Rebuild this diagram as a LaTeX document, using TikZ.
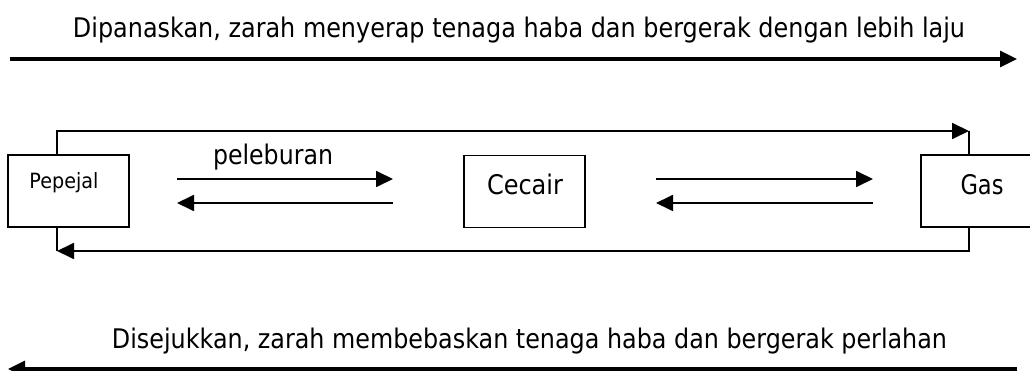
\documentclass[tikz,border=0pt]{standalone}
\usepackage{fontspec}
\setmainfont{DejaVu Sans}
\usetikzlibrary{arrows.meta}
\newcommand\fw[2]{\resizebox{#1}{\height}{#2}}
\begin{document}
\begin{tikzpicture}[x=1pt,y=-1pt,
  box/.style={draw,line width=1.8pt,inner sep=0pt,minimum width=121pt,minimum height=72pt},
  conn/.style={line width=1.8pt},
  tip/.style={-{Triangle[length=17pt,width=16pt]}},
  big/.style={line width=3.2pt,-{Triangle[length=17pt,width=16pt]}},
  lbl/.style={font=\fontsize{27}{30}\selectfont,inner sep=0pt,anchor=base},
  slbl/.style={font=\fontsize{21}{24}\selectfont,inner sep=0pt,anchor=base}
]
\clip (0,0) rectangle (1030,371);
\fill[white] (0,0) rectangle (1030,371);

% boxes
\node[box] (pep) at (68.5,191) {};
\node[box] (cec) at (524.5,191.5) {};
\node[box] (gas) at (981.5,191) {};
\node[slbl] (peptxt) at (64,189) {\fw{69pt}{Pepejal}};
\node[lbl] (cectxt) at (525,195) {\fw{76pt}{Cecair}};
\node[lbl] (gastxt) at (982,195) {\fw{43pt}{Gas}};

% coordinates for the arrows
\coordinate (a1s) at (177,179); \coordinate (a1e) at (393,179);
\coordinate (a2s) at (393,203); \coordinate (a2e) at (177,203);
\coordinate (b1s) at (656,179); \coordinate (b1e) at (873,179);
\coordinate (b2s) at (873,203); \coordinate (b2e) at (656,203);
\node[lbl] (pel) at (273,165) {\fw{120pt}{peleburan}};

\draw[conn,tip] (a1s) -- (a1e);
\draw[conn,tip] (a2s) -- (a2e);
\draw[conn,tip] (b1s) -- (b1e);
\draw[conn,tip] (b2s) -- (b2e);

% loop connectors
\coordinate (tl) at (57,131); \coordinate (tr) at (969,131);
\coordinate (bl) at (57,251); \coordinate (br) at (969,251);
\draw[conn,tip] (pep.north -| tl) -- (tl) -- (tr);
\draw[conn] (tr) -- (gas.north -| tr);
\draw[conn,tip] (gas.south -| br) -- (br) -- (bl);
\draw[conn] (bl) -- (pep.south -| bl);

% top and bottom big arrows
\node[lbl] (toptxt) at (519,38) {\fw{892pt}{Dipanaskan, zarah menyerap tenaga haba dan bergerak dengan lebih laju}};
\coordinate (t1) at (10,59); \coordinate (t2) at (1017,59);
\draw[big] (t1) -- (t2);
\node[lbl] (bottxt) at (529.5,348) {\fw{835pt}{Disejukkan, zarah membebaskan tenaga haba dan bergerak perlahan}};
\coordinate (u1) at (1017,369); \coordinate (u2) at (8,369);
\draw[big] (u1) -- (u2);
\end{tikzpicture}
\end{document}
